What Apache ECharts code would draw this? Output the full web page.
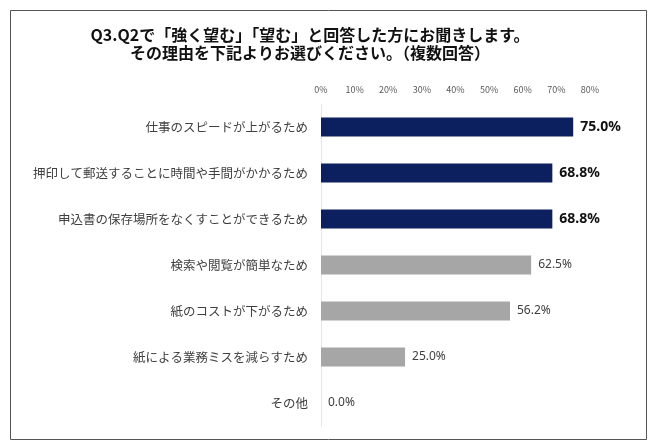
<!DOCTYPE html>
<html>
<head>
<meta charset="utf-8">
<script src="https://cdn.jsdelivr.net/npm/echarts@6/dist/echarts.min.js"></script>
<style>
  html, body { margin: 0; padding: 0; background: #fff; }
  #chart { width: 650px; height: 447px; }
</style>
</head>
<body>
<div id="chart"></div>
<script>
const categories = [
  '仕事のスピードが上がるため',
  '押印して郵送することに時間や手間がかかるため',
  '申込書の保存場所をなくすことができるため',
  '検索や閲覧が簡単なため',
  '紙のコストが下がるため',
  '紙による業務ミスを減らすため',
  'その他'
]
const values = [75.0, 68.8, 68.8, 62.5, 56.2, 25.0, 0.0]
// top three answers are highlighted
const highlighted = [true, true, true, false, false, false, false]

const navy = '#0c1f5e'
const gray = '#a6a6a6'
const font = '"Noto Sans CJK JP", "Noto Sans", sans-serif'

const chart = echarts.init(document.getElementById('chart'))

chart.setOption({
  animation: false,
  textStyle: { fontFamily: font },
  title: {
    text: 'Q3.Q2で「強く望む」「望む」と回答した方にお聞きします。\nその理由を下記よりお選びください。（複数回答）',
    left: 305,
    top: 21,
    textAlign: 'center',
    textStyle: {
      fontSize: 16,
      fontWeight: 'bold',
      color: '#111',
      lineHeight: 18,
      fontFamily: font
    }
  },
  graphic: [{
    type: 'rect',
    shape: { x: 10.5, y: 10.5, width: 636, height: 429 },
    style: { fill: 'none', stroke: '#555', lineWidth: 1 },
    z: 0
  }],
  grid: {
    left: 321,
    right: 60,
    top: 104,
    bottom: 21
  },
  xAxis: {
    type: 'value',
    position: 'top',
    min: 0,
    max: 80,
    interval: 10,
    axisLine: { show: false },
    axisTick: { show: false },
    splitLine: { show: false },
    axisLabel: {
      formatter: '{value}%',
      fontSize: 9,
      color: '#595959',
      margin: 10
    }
  },
  yAxis: {
    type: 'category',
    data: categories,
    inverse: true,
    axisLine: { show: true, lineStyle: { color: '#e6e6e6', width: 1 } },
    axisTick: { show: false },
    axisLabel: {
      fontSize: 12.5,
      color: '#404040',
      margin: 13
    }
  },
  series: [{
    type: 'bar',
    barWidth: 19,
    data: values.map((v, i) => ({
      value: v,
      itemStyle: { color: highlighted[i] ? navy : gray },
      label: highlighted[i]
        ? { fontSize: 14, fontWeight: 'bold', color: '#111' }
        : { fontSize: 12, fontWeight: 'normal', color: '#404040' }
    })),
    label: {
      show: true,
      position: 'right',
      distance: 7,
      fontFamily: '"Noto Sans", sans-serif',
      formatter: p => p.value.toFixed(1) + '%'
    }
  }]
})
</script>
</body>
</html>
